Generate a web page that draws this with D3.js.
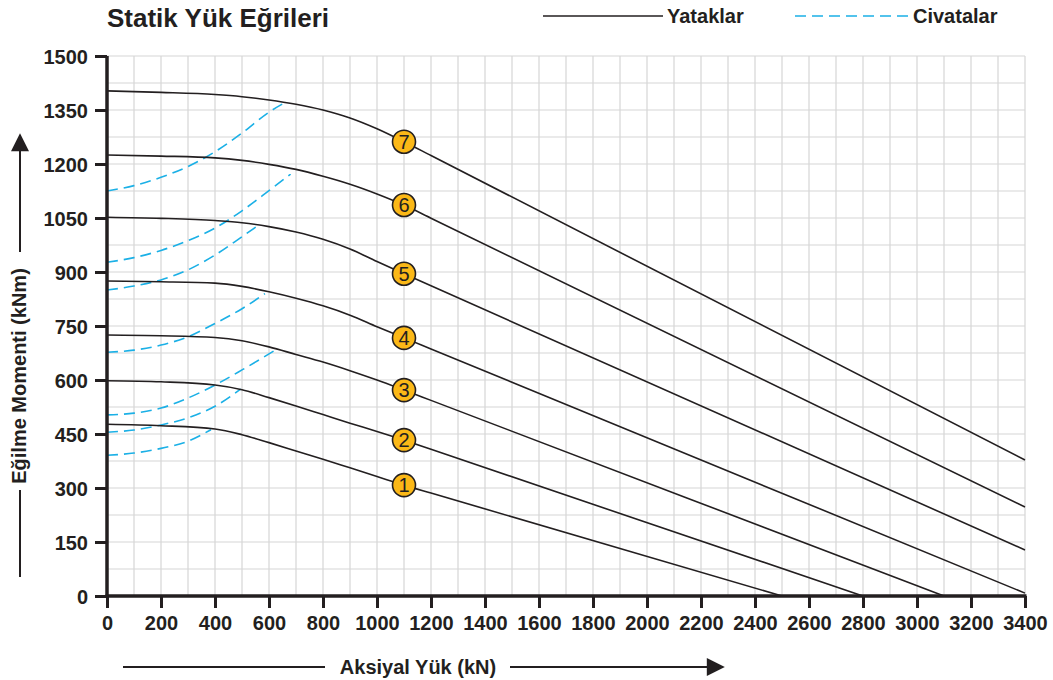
<!DOCTYPE html>
<html lang="tr">
<head>
  <meta charset="utf-8">
  <script src="https://d3js.org/d3.v7.min.js"></script>
  <style>
    body, html {
      margin: 0;
      padding: 0;
      background: #fff;
    }
    text {
      font-family: "Liberation Sans", Arial, sans-serif;
      fill: #231f20;
    }
    .grid line {
      stroke: #d6d6d6;
      stroke-width: 1.2px;
    }
    .bearing {
      fill: none;
      stroke: #231f20;
      stroke-width: 1.6px;
    }
    .bolt {
      fill: none;
      stroke: #1bb0e6;
      stroke-width: 1.6px;
      stroke-dasharray: 11 6;
    }
  </style>
</head>
<body>
<svg id="chart" width="1053" height="680"></svg>

<script>
  // tick labels
  var xTicks = [0, 200, 400, 600, 800, 1000, 1200, 1400, 1600, 1800, 2000, 2200, 2400, 2600, 2800, 3000, 3200, 3400];
  var yTicks = [0, 150, 300, 450, 600, 750, 900, 1050, 1200, 1350, 1500];

  // curve numbers (label sits at axial load 1100 kN)
  var curveIds = [1, 2, 3, 4, 5, 6, 7];
  var labelLoad = 1100;

  // "Yataklar" (bearings) curves, [axial load kN, moment kNm]
  var bearing1 = [[0, 477], [200, 473], [400, 464], [500, 448], [600, 426], [700, 403], [800, 380], [900, 356], [1000, 332], [1100, 308], [1200, 286], [2500, 0]];
  var bearing2 = [[0, 598], [200, 595], [400, 586], [500, 573], [600, 551], [700, 528], [800, 504], [900, 480], [1000, 457], [1100, 433], [1200, 407.5], [2800, 0]];
  var bearing3 = [[0, 725], [200, 723], [400, 718], [500, 709], [600, 692], [700, 671], [800, 650], [900, 626], [1000, 600], [1100, 572], [1200, 543.4], [3100, 0]];
  var bearing4 = [[0, 875], [200, 873], [400, 869], [500, 860], [600, 845], [700, 827], [800, 806], [900, 780], [1000, 748], [1100, 717], [1200, 686.2], [3400, 8]];
  var bearing5 = [[0, 1052], [200, 1049], [400, 1043], [500, 1037], [600, 1026], [700, 1011], [800, 991], [900, 964], [1000, 929], [1100, 895], [1200, 861.6], [3400, 128]];
  var bearing6 = [[0, 1225], [200, 1222], [400, 1217], [500, 1210], [600, 1199], [700, 1185], [800, 1166], [900, 1144], [1000, 1117], [1100, 1086], [1200, 1049.5], [3400, 247]];
  var bearing7 = [[0, 1403], [200, 1399], [400, 1393], [500, 1387], [600, 1378], [700, 1366], [800, 1350], [900, 1328], [1000, 1298], [1100, 1262], [1200, 1223.6], [3400, 378]];

  // "Civatalar" (bolts) curves
  var bolt1 = [[0, 391], [100, 397], [200, 410], [300, 430], [385, 462]];
  var bolt2 = [[0, 455], [100, 461], [200, 475], [300, 495], [400, 527], [495, 575]];
  var bolt3 = [[0, 503], [100, 508], [200, 522], [300, 550], [400, 586], [500, 628], [630, 686]];
  var bolt4 = [[0, 677], [100, 683], [200, 697], [300, 720], [400, 757], [500, 798], [585, 840]];
  var bolt5 = [[0, 850], [100, 861], [200, 878], [300, 906], [400, 947], [500, 998], [565, 1032]];
  var bolt6 = [[0, 927], [100, 940], [200, 960], [300, 987], [400, 1022], [500, 1070], [600, 1126], [680, 1172]];
  var bolt7 = [[0, 1125], [100, 1140], [200, 1163], [300, 1193], [400, 1234], [500, 1286], [600, 1344], [660, 1371]];

  var bearings = [bearing1, bearing2, bearing3, bearing4, bearing5, bearing6, bearing7];
  var bolts = [bolt1, bolt2, bolt3, bolt4, bolt5, bolt6, bolt7];

  var svg = d3.select("#chart");

  var x = d3.scaleLinear().domain([0, 3400]).range([107, 1025]);
  var y = d3.scaleLinear().domain([0, 1500]).range([596, 56]);

  // grid: every 100 kN and every 75 kNm
  var grid = svg.append("g").attr("class", "grid");
  grid.selectAll(".gx")
      .data(d3.range(100, 3401, 100))
      .enter().append("line")
      .attr("x1", d => x(d)).attr("x2", d => x(d))
      .attr("y1", y(0)).attr("y2", y(1500));
  grid.selectAll(".gy")
      .data(d3.range(75, 1501, 75))
      .enter().append("line")
      .attr("x1", x(0)).attr("x2", x(3400))
      .attr("y1", d => y(d)).attr("y2", d => y(d));

  var line = d3.line()
      .x(d => x(d[0]))
      .y(d => y(d[1]))
      .curve(d3.curveMonotoneX);

  svg.selectAll(".bolt")
      .data(bolts)
      .enter().append("path")
      .attr("class", "bolt")
      .attr("d", line);

  svg.selectAll(".bearing")
      .data(bearings)
      .enter().append("path")
      .attr("class", "bearing")
      .attr("d", line);

  // axes
  var xAxis = d3.axisBottom(x).tickValues(xTicks).tickFormat(d3.format("d")).tickSize(12).tickPadding(8);
  var yAxis = d3.axisLeft(y).tickValues(yTicks).tickFormat(d3.format("d")).tickSize(12).tickPadding(7);

  var gx = svg.append("g").attr("transform", "translate(0," + y(0) + ")").call(xAxis);
  var gy = svg.append("g").attr("transform", "translate(" + x(0) + ",0)").call(yAxis);

  [gx, gy].forEach(function(g) {
    g.select(".domain").remove();
    g.selectAll(".tick line").attr("stroke", "#231f20").attr("stroke-width", 3);
    g.selectAll(".tick text")
        .attr("fill", "#231f20")
        .style("font-family", "'Liberation Sans', Arial, sans-serif")
        .style("font-size", "20px")
        .style("font-weight", "bold");
  });
  gy.selectAll(".tick text").attr("dy", "0.36em");

  svg.append("line")
      .attr("x1", x(0) - 1.5).attr("x2", x(3400) + 1.5)
      .attr("y1", y(0)).attr("y2", y(0))
      .attr("stroke", "#231f20").attr("stroke-width", 3.5);
  svg.append("line")
      .attr("x1", x(0)).attr("x2", x(0))
      .attr("y1", y(0) + 1.5).attr("y2", y(1500))
      .attr("stroke", "#231f20").attr("stroke-width", 3.5);

  // numbered markers
  function valueAt(pts, v) {
    for (var i = 1; i < pts.length; i++) {
      if (pts[i][0] >= v) {
        var t = (v - pts[i - 1][0]) / (pts[i][0] - pts[i - 1][0]);
        return pts[i - 1][1] + t * (pts[i][1] - pts[i - 1][1]);
      }
    }
    return pts[pts.length - 1][1];
  }

  var marks = svg.selectAll(".mark")
      .data(curveIds)
      .enter().append("g")
      .attr("class", "mark")
      .attr("transform", (d, i) => "translate(" + x(labelLoad) + "," + y(valueAt(bearings[i], labelLoad)) + ")");
  marks.append("circle")
      .attr("r", 11.5)
      .attr("fill", "#fbb817")
      .attr("stroke", "#231f20")
      .attr("stroke-width", 1.6);
  marks.append("text")
      .attr("text-anchor", "middle")
      .attr("dy", "0.36em")
      .style("font-size", "20px")
      .text(d => d);

  // title
  svg.append("text")
      .attr("x", 107).attr("y", 27)
      .style("font-size", "26px")
      .style("font-weight", "bold")
      .text("Statik Yük Eğrileri");

  // legend
  svg.append("line")
      .attr("x1", 543).attr("x2", 663).attr("y1", 16).attr("y2", 16)
      .attr("stroke", "#231f20").attr("stroke-width", 1.6);
  svg.append("text")
      .attr("x", 667).attr("y", 23)
      .style("font-size", "20px").style("font-weight", "bold")
      .text("Yataklar");
  svg.append("line")
      .attr("x1", 795).attr("x2", 910).attr("y1", 16).attr("y2", 16)
      .attr("class", "bolt");
  svg.append("text")
      .attr("x", 913).attr("y", 23)
      .style("font-size", "20px").style("font-weight", "bold")
      .text("Civatalar");

  // arrow heads
  var defs = svg.append("defs");
  defs.append("marker")
      .attr("id", "arrow")
      .attr("viewBox", "0 0 10 10")
      .attr("refX", 9).attr("refY", 5)
      .attr("markerWidth", 24).attr("markerHeight", 18)
      .attr("markerUnits", "userSpaceOnUse")
      .attr("orient", "auto")
      .append("path")
      .attr("d", "M0,0 L10,5 L0,10 Z")
      .attr("fill", "#231f20");

  // x axis title
  svg.append("text")
      .attr("x", 418).attr("y", 674)
      .attr("text-anchor", "middle")
      .style("font-size", "20px").style("font-weight", "bold")
      .text("Aksiyal Yük (kN)");
  svg.append("line")
      .attr("x1", 123).attr("x2", 325).attr("y1", 667).attr("y2", 667)
      .attr("stroke", "#231f20").attr("stroke-width", 2);
  svg.append("line")
      .attr("x1", 510).attr("x2", 723).attr("y1", 667).attr("y2", 667)
      .attr("stroke", "#231f20").attr("stroke-width", 2)
      .attr("marker-end", "url(#arrow)");

  // y axis title
  svg.append("text")
      .attr("transform", "translate(26,376) rotate(-90)")
      .attr("text-anchor", "middle")
      .style("font-size", "20px").style("font-weight", "bold")
      .text("Eğilme Momenti (kNm)");
  svg.append("line")
      .attr("x1", 20).attr("x2", 20).attr("y1", 577).attr("y2", 490)
      .attr("stroke", "#231f20").attr("stroke-width", 2);
  svg.append("line")
      .attr("x1", 20).attr("x2", 20).attr("y1", 252).attr("y2", 135)
      .attr("stroke", "#231f20").attr("stroke-width", 2)
      .attr("marker-end", "url(#arrow)");
</script>
</body>
</html>
